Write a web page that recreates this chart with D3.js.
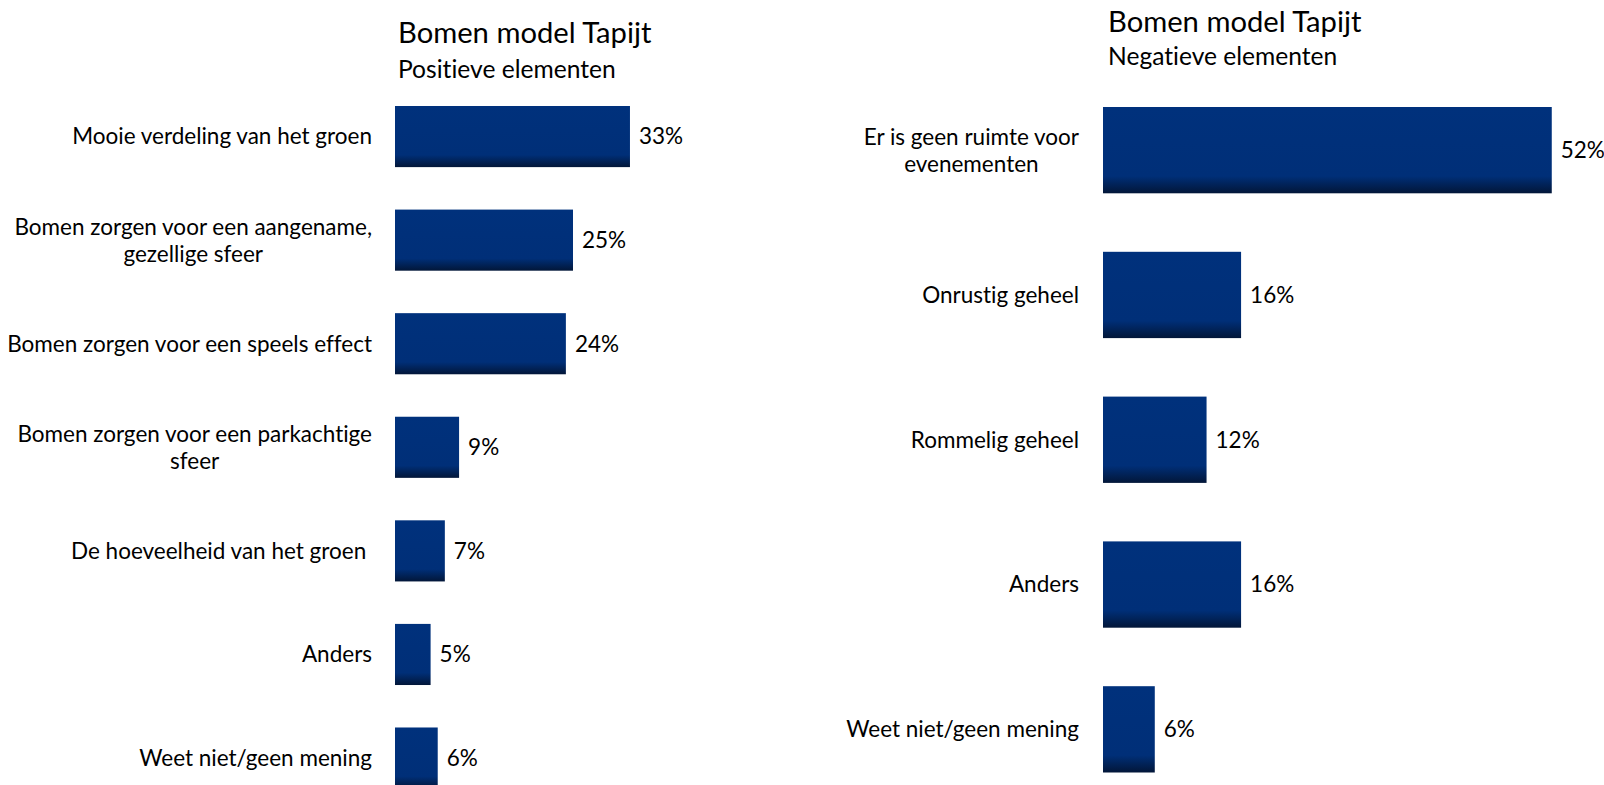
<!DOCTYPE html>
<html>
<head>
<meta charset="utf-8">
<script src="https://cdn.jsdelivr.net/npm/d3@7"></script>
<style>
  body { margin: 0; background: #fff; overflow: hidden; }
  svg { display: block; font-family: "Lato", "Open Sans", sans-serif; font-variant-ligatures: none; }
</style>
</head>
<body>
<div id="chart"></div>
<script>
// left panel data
var posLabels = [
    ["Mooie verdeling van het groen"],
    ["Bomen zorgen voor een aangename,", "gezellige sfeer"],
    ["Bomen zorgen voor een speels effect"],
    ["Bomen zorgen voor een parkachtige", "sfeer"],
    ["De hoeveelheid van het groen "],
    ["Anders"],
    ["Weet niet/geen mening"]
];
var posValues = [33, 25, 24, 9, 7, 5, 6];

// right panel data
var negLabels = [
    ["Er is geen ruimte voor", "evenementen"],
    ["Onrustig geheel"],
    ["Rommelig geheel"],
    ["Anders"],
    ["Weet niet/geen mening"]
];
var negValues = [52, 16, 12, 16, 6];

var titles = ["Bomen model Tapijt", "Bomen model Tapijt"];
var subtitles = ["Positieve elementen", "Negatieve elementen"];

var W = 1604, H = 785;
var svg = d3.select("#chart").append("svg")
    .attr("width", W)
    .attr("height", H);

// bar fill: flat navy with a darker band at the bottom
var grad = svg.append("defs").append("linearGradient")
    .attr("id", "barGrad")
    .attr("x1", 0).attr("y1", 0).attr("x2", 0).attr("y2", 1);
grad.append("stop").attr("offset", "0%").attr("stop-color", "#00317c");
grad.append("stop").attr("offset", "80%").attr("stop-color", "#002f78");
grad.append("stop").attr("offset", "100%").attr("stop-color", "#021638");

function drawPanel(cfg) {
    var x = d3.scaleLinear()
        .domain([0, 1])
        .range([cfg.x0, cfg.x0 + cfg.perPct]);

    var y = d3.scaleBand()
        .domain(d3.range(cfg.values.length))
        .range(cfg.yRange)
        .paddingInner(cfg.pad)
        .paddingOuter(0);

    var g = svg.append("g");

    g.append("text")
        .attr("x", cfg.titleX)
        .attr("y", cfg.titleY)
        .attr("font-size", 29.2)
        .attr("fill", "#000")
        .text(cfg.title);

    g.append("text")
        .attr("x", cfg.titleX)
        .attr("y", cfg.subY)
        .attr("font-size", 24.6)
        .attr("fill", "#000")
        .text(cfg.subtitle);

    g.selectAll("rect.bar")
        .data(cfg.values)
        .enter()
        .append("rect")
        .attr("class", "bar")
        .attr("x", x(0))
        .attr("y", (d, i) => y(i))
        .attr("width", d => x(d) - x(0))
        .attr("height", y.bandwidth())
        .attr("fill", "url(#barGrad)");

    g.selectAll("text.val")
        .data(cfg.values)
        .enter()
        .append("text")
        .attr("class", "val")
        .attr("x", d => x(d) + 9)
        .attr("y", (d, i) => y(i) + y.bandwidth() / 2)
        .attr("dy", "0.35em")
        .attr("font-size", 22.5)
        .attr("fill", "#000")
        .text(d => d + "%");

    // category labels, multi-line ones centred on each other, block right-aligned
    var lineH = 27;
    cfg.labels.forEach(function(lines, i) {
        var cy = y(i) + y.bandwidth() / 2;
        var t = g.append("text")
            .attr("font-size", 22.5)
            .attr("fill", "#000")
            .style("white-space", "pre");
        var spans = lines.map(function(s, k) {
            return t.append("tspan")
                .attr("y", cy + (k - (lines.length - 1) / 2) * lineH)
                .attr("dy", "0.35em")
                .text(s);
        });
        var maxW = d3.max(spans, s => s.node().getComputedTextLength());
        spans.forEach(function(s) {
            s.attr("x", cfg.labelRight - maxW / 2).attr("text-anchor", "middle");
        });
    });
}

drawPanel({
    labels: posLabels, values: posValues,
    title: titles[0], subtitle: subtitles[0],
    titleX: 398, titleY: 43, subY: 78,
    x0: 395, perPct: 7.12,
    yRange: [106, 788.6], pad: 0.41,
    labelRight: 372
});

drawPanel({
    labels: negLabels, values: negValues,
    title: titles[1], subtitle: subtitles[1],
    titleX: 1108, titleY: 32, subY: 65,
    x0: 1103, perPct: 8.63,
    yRange: [107, 772.5], pad: 0.404,
    labelRight: 1079
});
</script>
</body>
</html>
